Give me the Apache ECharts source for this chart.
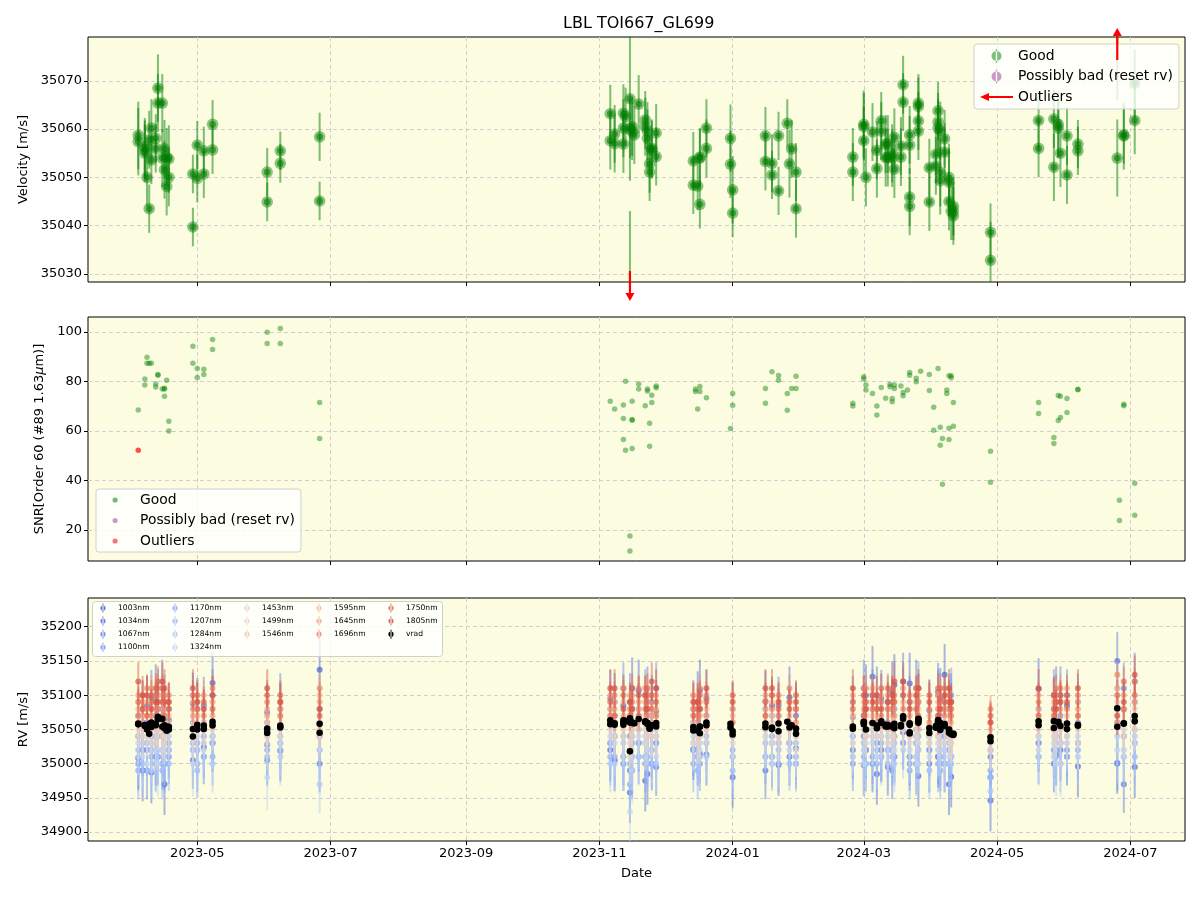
<!DOCTYPE html>
<html>
<head>
<meta charset="utf-8">
<title>LBL TOI667_GL699</title>
<script src="https://cdn.jsdelivr.net/npm/echarts@6/dist/echarts.min.js"></script>
<style>
  html, body { margin: 0; padding: 0; background: #fff; }
  #chart { width: 1200px; height: 900px; }
</style>
</head>
<body>
<div id="chart"></div>
<script>
// ---- 坐标轴范围与刻度 ----
const xMin = '2023-03-12';
const xMax = '2024-07-26';
const xTickLabels = ['2023-05', '2023-07', '2023-09', '2023-11', '2024-01', '2024-03', '2024-05', '2024-07'];
const velMin = 35028.3, velMax = 35079.1;
const velTicks = [35030, 35040, 35050, 35060, 35070];
const snrMin = 7.5, snrMax = 106.1;
const snrTicks = [20, 40, 60, 80, 100];
const rvMin = 34887, rvMax = 35242;
const rvTicks = [34900, 34950, 35000, 35050, 35100, 35150, 35200];

// ---- 速度 (Good) ----
const velDates = [
  '2023-04-04','2023-04-04','2023-04-07','2023-04-07','2023-04-07','2023-04-08','2023-04-09','2023-04-09','2023-04-10','2023-04-10',
  '2023-04-12','2023-04-12','2023-04-13','2023-04-13','2023-04-15','2023-04-15','2023-04-16','2023-04-16','2023-04-17','2023-04-17',
  '2023-04-18','2023-04-18','2023-04-29','2023-04-29','2023-05-01','2023-05-01','2023-05-04','2023-05-04','2023-05-08','2023-05-08',
  '2023-06-02','2023-06-02','2023-06-08','2023-06-08','2023-06-26','2023-06-26',
  '2023-11-06','2023-11-06','2023-11-08','2023-11-08','2023-11-12','2023-11-12','2023-11-12','2023-11-13','2023-11-15','2023-11-15',
  '2023-11-16','2023-11-16','2023-11-17','2023-11-19','2023-11-22','2023-11-22','2023-11-23','2023-11-23','2023-11-24','2023-11-24',
  '2023-11-25','2023-11-25','2023-11-27','2023-11-27',
  '2023-12-14','2023-12-14','2023-12-16','2023-12-17','2023-12-17','2023-12-17','2023-12-20','2023-12-20','2023-12-31','2023-12-31',
  '2024-01-01','2024-01-01','2024-01-16','2024-01-16','2024-01-19','2024-01-19','2024-01-22','2024-01-22','2024-01-26','2024-01-27',
  '2024-01-28','2024-01-30','2024-01-30',
  '2024-02-25','2024-02-25','2024-03-01','2024-03-01','2024-03-01','2024-03-02','2024-03-05','2024-03-07','2024-03-07','2024-03-09',
  '2024-03-09','2024-03-11','2024-03-11','2024-03-12','2024-03-12','2024-03-14','2024-03-14','2024-03-15','2024-03-15','2024-03-18',
  '2024-03-18','2024-03-19','2024-03-19','2024-03-22','2024-03-22','2024-03-22','2024-03-22','2024-03-26','2024-03-26','2024-03-26',
  '2024-03-26','2024-03-31','2024-03-31','2024-04-03','2024-04-03','2024-04-04','2024-04-04','2024-04-04','2024-04-05','2024-04-05',
  '2024-04-05','2024-04-07','2024-04-07','2024-04-09','2024-04-09','2024-04-09','2024-04-10','2024-04-11','2024-04-11','2024-04-11',
  '2024-04-28','2024-04-28',
  '2024-05-20','2024-05-20','2024-05-27','2024-05-27','2024-05-29','2024-05-29','2024-05-30','2024-06-02','2024-06-02','2024-06-07',
  '2024-06-07','2024-06-25','2024-06-28','2024-06-28','2024-07-03','2024-07-03'
];
const velValues = [
  35058.7,35057.4,35056.3,35055.8,35055.0,35050.0,35043.5,35057.8,35060.2,35053.6,
  35058.1,35056.0,35068.5,35065.4,35065.4,35054.0,35055.9,35051.6,35054.2,35048.1,
  35053.8,35050.0,35039.7,35050.7,35056.7,35049.8,35055.5,35050.7,35061.0,35055.7,
  35051.1,35044.9,35055.5,35052.9,35058.4,35045.1,
  35063.2,35057.6,35059.0,35057.0,35056.9,35060.2,35063.3,35062.6,35066.3,35060.0,
  35060.5,35059.6,35058.8,35065.2,35061.9,35060.5,35059.6,35058.1,35052.8,35051.1,
  35055.7,35056.0,35059.2,35054.3,
  35053.4,35048.4,35048.2,35054.0,35054.2,35044.4,35060.2,35056.0,35058.1,35052.7,
  35047.4,35042.6,35058.6,35053.3,35052.9,35050.5,35058.6,35047.2,35061.2,35052.8,
  35055.9,35051.1,35043.5,
  35054.2,35051.1,35060.5,35061.0,35057.6,35050.0,35059.4,35055.6,35051.8,35061.7,
  35059.6,35056.9,35054.1,35056.9,35054.1,35055.0,35054.0,35058.3,35051.7,35056.5,
  35054.2,35069.2,35065.6,35058.8,35056.7,35045.9,35044.0,35065.4,35064.7,35061.7,
  35059.6,35052.0,35044.9,35054.8,35052.4,35063.8,35061.5,35060.2,35059.7,35051.0,
  35049.3,35058.0,35055.2,35050.0,35049.0,35045.0,35043.0,35042.0,35044.0,35043.0,
  35038.6,35032.8,
  35061.8,35056.0,35062.1,35052.1,35061.0,35060.2,35055.0,35058.6,35050.5,35056.9,
  35055.5,35054.0,35058.6,35058.8,35061.8,35069.5
];
const velErr = [
  7,7,6,6,6,6,5,6,6,5, 5,5,7,6,6,6,6,6,6,6, 7,6,4,4,5,5,5,5,5,5, 5,4,4,4,5,4,
  6,6,6,6,6,6,6,6,17,6, 6,6,6,6,6,6,6,6,6,6, 6,6,6,6,
  6,6,5,6,6,5,6,6,7,7, 7,5,6,6,6,5,5,5,5,7, 6,6,6,
  6,6,7,7,7,6,6,6,6,6, 6,6,6,6,6,6,6,6,6,6, 6,6,6,6,6,6,6,6,6,6,
  6,6,6,6,6,6,6,6,6,7, 7,6,6,7,7,6,6,6,6,6, 6,8,
  6,6,6,7,7,6,7,6,6,5, 5,8,7,6,7,7
];

// ---- 速度离群点 (超出坐标范围) ----
const outDates = ['2023-11-15', '2024-06-25'];
const outValues = [35018, 35081];
const outErr = [25, 15];

// ---- SNR ----
const snrDates = [
  '2023-04-04','2023-04-07','2023-04-07','2023-04-08','2023-04-08','2023-04-09','2023-04-10','2023-04-12','2023-04-12','2023-04-13',
  '2023-04-13','2023-04-15','2023-04-16','2023-04-16','2023-04-16','2023-04-17','2023-04-18','2023-04-18','2023-04-29','2023-04-29',
  '2023-05-01','2023-05-01','2023-05-04','2023-05-04','2023-05-08','2023-05-08','2023-06-02','2023-06-02','2023-06-08','2023-06-08',
  '2023-06-26','2023-06-26',
  '2023-11-06','2023-11-08','2023-11-12','2023-11-12','2023-11-12','2023-11-13','2023-11-13','2023-11-15','2023-11-15','2023-11-16',
  '2023-11-16','2023-11-16','2023-11-16','2023-11-19','2023-11-19','2023-11-22','2023-11-23','2023-11-23','2023-11-24','2023-11-24',
  '2023-11-25','2023-11-25','2023-11-27','2023-11-27',
  '2023-12-15','2023-12-15','2023-12-16','2023-12-17','2023-12-17','2023-12-20','2023-12-31','2024-01-01','2024-01-01',
  '2024-01-16','2024-01-16','2024-01-19','2024-01-22','2024-01-22','2024-01-26','2024-01-26','2024-01-28','2024-01-30','2024-01-30',
  '2024-02-25','2024-02-25','2024-03-01','2024-03-01','2024-03-02','2024-03-02','2024-03-05','2024-03-07','2024-03-07','2024-03-09',
  '2024-03-11','2024-03-13','2024-03-13','2024-03-14','2024-03-14','2024-03-15','2024-03-15','2024-03-18','2024-03-19','2024-03-19',
  '2024-03-21','2024-03-22','2024-03-22','2024-03-25','2024-03-25','2024-03-27','2024-03-31','2024-03-31','2024-04-02','2024-04-02',
  '2024-04-04','2024-04-05','2024-04-05','2024-04-06','2024-04-06','2024-04-08','2024-04-08','2024-04-09','2024-04-09','2024-04-09',
  '2024-04-10','2024-04-10','2024-04-11','2024-04-11','2024-04-28','2024-04-28',
  '2024-05-20','2024-05-20','2024-05-27','2024-05-27','2024-05-29','2024-05-29','2024-05-30','2024-05-30','2024-06-02','2024-06-02',
  '2024-06-07','2024-06-07','2024-06-26','2024-06-26','2024-06-28','2024-06-28','2024-07-03','2024-07-03'
];
const snrValues = [
  68.5,81,78.6,89.8,87.4,87.4,87.4,79,77.8,82.9,
  82.6,77,77,77.3,74.1,80.5,64,60,94.3,87.4,
  85.3,81.7,85,82.9,97,93,99.9,95.4,101.5,95.4,
  71.6,57,
  72.1,68.9,56.6,70.5,65.1,80.1,52.3,17.6,11.5,72.1,
  64.4,64.7,53,79,77,70.2,77,76.2,63.2,53.9,
  71.6,74.5,77.5,78.2,
  77,76,68.9,78,76,73.5,61,75.2,70.4,
  77.2,71.2,84,82.5,80.5,75.2,68.4,77.2,77.2,82.2,
  71.2,70.1,82,81,78.6,76.6,75.2,70.1,66.5,77.6,
  73.3,78.9,77.9,73.2,71.9,78.6,77.2,78.2,75.6,74.3,
  76.6,83.7,82.6,81.3,79.9,84.2,82.9,76.4,69.6,60.3,
  85.3,61.5,54.3,57,38.5,76.6,75.2,82.4,61.1,56.6,
  82.4,81.6,62,71.6,51.8,39.3,
  71.6,67.1,57.4,55,74.4,64.3,74.1,65.5,73.2,67.5,
  76.7,76.9,32,23.9,70.8,70.2,38.9,26
];
const snrOutDates = ['2023-04-04'];
const snrOutValues = [52.3];

// ---- 各波段 RV (前 46 个日期 + 密集时段补充的 19 个日期) ----
const rvDates = [
  '2023-04-04','2023-04-08','2023-04-10','2023-04-13','2023-04-16','2023-04-18','2023-04-29','2023-05-04','2023-05-08','2023-06-02',
  '2023-06-08','2023-06-26','2023-11-06','2023-11-12','2023-11-15','2023-11-19','2023-11-23','2023-11-27','2023-12-14','2023-12-17',
  '2023-12-20','2024-01-01','2024-01-16','2024-01-22','2024-01-27','2024-01-30','2024-02-25','2024-03-01','2024-03-05','2024-03-09',
  '2024-03-14','2024-03-19','2024-03-22','2024-03-26','2024-03-31','2024-04-04','2024-04-07','2024-04-10','2024-04-28','2024-05-20',
  '2024-05-28','2024-06-02','2024-06-07','2024-06-25','2024-06-28','2024-07-03',
  '2023-04-06','2023-04-12','2023-04-15','2023-05-01','2023-11-08','2023-11-16','2023-11-22','2023-11-25','2023-12-16','2024-01-19',
  '2024-03-02','2024-03-07','2024-03-12','2024-03-15','2024-03-25','2024-04-05','2024-04-09','2024-05-27','2024-05-30'
];
const bandNames = ['1003nm','1034nm','1067nm','1100nm','1170nm','1207nm','1284nm','1324nm',
  '1453nm','1499nm','1546nm','1595nm','1645nm','1696nm','1750nm','1805nm'];
const bandColors = ['#4a63d3','#5673e0','#6485ec','#7093f3','#84a7fc','#94b6ff','#adc9fd','#c0d4f5',
  '#dcd6d3','#ebd2c5','#f2c7b2','#f6b79b','#f5a081','#ee8669','#e26952','#d65244'];
const bandErr = [45, 42, 38, 40, 42, 40, 42, 48, 40, 30, 26, 22, 20, 20, 22, 28];

const rv1003 = [35008,35085,34987,35080,34970,35063,35088,35024,35118,35028, 35019,35137,35020,35085,34958,35107,34985,35077,35021,35107,
  35013,34980,35091,34998,35097,35022,35068,34998,35127,35020, 35105,35046,35117,34982,35078,35010,35130,34981,34946,35109,
  35013,35085,34996,35001,35079,34995,
  34990,35100,35040,35080,35005,35110,34975,35070,35090,35010, 35100,34985,35060,35115,35000,35095,34970,35080,35020];
const rv1034 = [35040,34990,35095,35010,35070,35020,35005,35085,35030,35075, 35090,35000,35095,35010,35090,35030,35100,34995,35080,35015,
  35095,35040,34990,35085,35010,35070,35020,35110,35000,35095, 34990,35120,35010,35090,35000,35105,35000,35090,35010,35030,
  35100,35010,35090,35150,34970,35120,
  35080,35010,35110,35000,35090,34990,35060,35020,35010,35085, 35020,35100,34995,35040,35110,35010,35080,35000,35100];
const rv1067 = [35070,35020,35040,35100,35000,35080,35030,35060,35100,35005, 35080,35040,35030,35110,34990,35080,35040,35110,35020,35080,
  35060,35010,35080,35030,35060,35000,35090,35040,35100,35010, 35080,35030,35090,35050,35020,35100,35040,35010,34980,35080,
  35040,35100,35030,35060,35110,35030,
  35020,35070,35000,35050,35040,35080,35100,35000,35060,35030, 35080,35030,35090,35010,35050,35070,35020,35100,35030];
const rv1100 = [35000,35060,35020,35050,35090,35010,35060,35010,35040,35060, 35030,35080,35080,35000,35040,35010,35070,35030,35060,35000,
  35070,35080,35010,35070,35030,35080,35000,35070,35010,35090, 35020,35100,35000,35110,35040,35010,35080,35100,35020,35010,
  35090,35020,35060,35000,35040,35090,
  35060,35000,35080,35020,35070,35030,35010,35090,35020,35070, 35000,35060,35020,35080,35030,35000,35090,35020,35070];
const rv1170 = [34990,35030,35010,35040,35000,35030,35020,35040,35010,35020, 35040,35020,35010,35040,34970,35050,35010,35030,35000,35040,
  35030,35020,35050,35000,35030,35010,35040,35010,35050,35030, 35010,35060,34990,35040,35020,35000,35040,35010,34990,35030,
  35010,35040,35020,35080,35010,35050,
  35020,35040,34990,35030,35010,35040,35000,35050,34990,35040, 35020,35000,35050,35010,35040,34990,35030,35050,35000];
const rv1207 = [35020,34990,35040,35010,35030,35000,35040,35010,35030,35010, 35020,35040,35030,35000,35000,35030,35000,35040,35020,35010,
  35040,34990,35030,35020,35000,35030,35010,35030,35000,35040, 35020,35030,35010,35020,34990,35040,35020,35000,34980,35040,
  35020,35010,35030,35110,35040,35010,
  35000,35030,35020,34990,35040,35010,35030,35000,35020,35000, 35040,35020,35000,35030,35010,35040,35000,35020,35030];
const rv1284 = [35010,35030,34990,35020,35010,35040,35020,35030,35000,35040, 35010,34970,35000,35030,35020,35010,35040,35000,35030,35030,
  35010,35040,35010,35040,35030,35000,35040,35020,35040,35010, 35040,35020,35040,35000,35030,35020,35000,35030,34960,35010,
  35040,35030,35010,35040,35020,35040,
  35030,35000,35040,35020,35000,35030,35010,35040,35010,35030, 35000,35040,35020,35000,35030,35010,35040,35010,35030];
const rv1324 = [35030,35000,35020,35000,35040,35020,35000,35020,35040,34980, 35030,35020,35040,35010,34930,35040,35020,35010,35040,35020,
  35030,35010,35040,35010,35020,35040,35030,35000,35030,35040, 35030,35050,35020,35030,35010,35030,35020,35010,35040,35020,
  35000,35040,35040,35020,35010,35030,
  35010,35040,35020,35000,35030,34990,35040,35020,35030,35010, 35030,35010,35040,35020,35000,35030,35010,35030,35000];
const rv1453 = [35040,35050,35030,35060,35040,35050,35030,35050,35060,35030, 35040,35060,35050,35040,35010,35050,35040,35050,35030,35040,
  35050,35030,35040,35030,35050,35020,35030,35050,35040,35050, 35040,35060,35030,35050,35040,35050,35030,35040,35030,35040,
  35050,35040,35030,35070,35050,35060,
  35050,35030,35050,35040,35060,35040,35030,35050,35040,35030, 35050,35040,35030,35060,35040,35030,35050,35040,35030];
const rv1499 = [35050,35040,35060,35050,35030,35060,35040,35060,35050,35040, 35050,35040,35060,35050,35030,35060,35050,35040,35050,35040,
  35060,35040,35050,35040,35060,35040,35050,35060,35050,35040, 35060,35050,35040,35060,35030,35040,35060,35030,35020,35050,
  35040,35060,35050,35080,35040,35050,
  35040,35060,35040,35050,35040,35060,35050,35040,35030,35060, 35040,35050,35060,35040,35050,35060,35040,35050,35060];
const rv1546 = [35060,35070,35050,35060,35070,35050,35060,35050,35070,35060, 35070,35050,35070,35060,35020,35070,35060,35070,35060,35070,
  35050,35060,35070,35060,35050,35060,35070,35060,35070,35080, 35050,35070,35060,35080,35050,35070,35060,35040,35040,35070,
  35060,35050,35070,35090,35060,35080,
  35070,35050,35060,35070,35060,35050,35070,35060,35050,35070, 35060,35070,35050,35070,35060,35050,35070,35060,35050];
const rv1595 = [35080,35090,35070,35100,35080,35070,35090,35080,35070,35080, 35090,35100,35080,35090,35060,35080,35100,35080,35090,35070,
  35080,35070,35080,35090,35070,35080,35070,35090,35080,35100, 35070,35090,35080,35100,35070,35090,35080,35060,35050,35080,
  35100,35070,35090,35110,35080,35070,
  35090,35080,35100,35070,35090,35080,35100,35070,35080,35090, 35070,35100,35080,35090,35100,35080,35070,35090,35080];
const rv1645 = [35100,35080,35110,35080,35100,35090,35070,35100,35090,35070, 35080,35090,35100,35070,35100,35090,35070,35100,35080,35090,
  35070,35080,35100,35070,35090,35060,35100,35080,35110,35090, 35080,35110,35070,35090,35080,35100,35070,35090,35060,35100,
  35080,35110,35080,35060,35100,35090,
  35080,35100,35070,35090,35080,35100,35090,35080,35070,35100, 35090,35080,35100,35070,35090,35100,35080,35100,35090];
const rv1696 = [35070,35110,35090,35110,35070,35100,35080,35070,35110,35090, 35070,35110,35070,35110,35080,35110,35090,35070,35100,35110,
  35100,35060,35090,35100,35110,35080,35090,35110,35080,35070, 35110,35080,35100,35110,35060,35080,35110,35070,35080,35090,
  35110,35080,35100,35130,35080,35120,
  35100,35070,35110,35080,35100,35090,35110,35080,35090,35080, 35110,35090,35080,35100,35110,35090,35100,35080,35110];
const rv1750 = [35090,35070,35100,35120,35090,35080,35100,35090,35080,35100, 35100,35070,35090,35100,35070,35070,35110,35090,35070,35100,
  35090,35100,35070,35080,35090,35100,35080,35070,35100,35110, 35090,35100,35090,35070,35100,35110,35090,35080,35070,35070,
  35090,35100,35070,35100,35120,35100,
  35080,35110,35090,35100,35070,35110,35080,35100,35080,35100, 35090,35080,35110,35090,35080,35110,35090,35070,35100];
const rv1805 = [35120,35100,35080,35090,35110,35090,35110,35080,35100,35110, 35090,35080,35110,35080,35090,35100,35080,35110,35090,35080,
  35110,35090,35110,35090,35080,35090,35110,35100,35090,35080, 35100,35120,35080,35110,35090,35070,35100,35090,35060,35110,
  35080,35090,35110,35070,35090,35130,
  35100,35090,35120,35090,35110,35080,35100,35120,35090,35110, 35080,35100,35090,35120,35100,35080,35110,35100,35090];
const bandValues = [rv1003, rv1034, rv1067, rv1100, rv1170, rv1207, rv1284, rv1324,
  rv1453, rv1499, rv1546, rv1595, rv1645, rv1696, rv1750, rv1805];
const vradErr = 3;

// 底部图例的列分组 (matplotlib ncol=5)
const rvLegendColumns = [
  ['1003nm', '1034nm', '1067nm', '1100nm'],
  ['1170nm', '1207nm', '1284nm', '1324nm'],
  ['1453nm', '1499nm', '1546nm'],
  ['1595nm', '1645nm', '1696nm'],
  ['1750nm', '1805nm', 'vrad']
];

// ---- 样式常量 ----
const FONT = 'DejaVu Sans';
const GREEN = 'rgba(0,128,0,0.5)';
const PURPLE = 'rgba(128,0,128,0.5)';
const GRID_LEFT = 88, GRID_WIDTH = 1097;

const chart = echarts.init(document.getElementById('chart'), null, { renderer: 'canvas' });

// 日期字符串 -> 时间戳
function ts(s) {
  return echarts.time.parse(s).getTime();
}

const xTicks = xTickLabels.map(s => ts(s + '-01'));

/**
 * x 轴 (三个面板共享范围)
 */
function makeXAxis(idx, withLabels) {
  return {
    type: 'value', gridIndex: idx, min: ts(xMin), max: ts(xMax),
    axisLine: { show: false },
    axisTick: { show: true, customValues: xTicks, length: 4, lineStyle: { color: '#000' } },
    axisLabel: {
      show: withLabels, customValues: xTicks, color: '#000', fontFamily: FONT, fontSize: 13, margin: 6,
      formatter: v => echarts.time.format(v, '{yyyy}-{MM}', false)
    },
    splitLine: { show: true, lineStyle: { color: '#cfcfcf', type: [4, 3], width: 1 } },
    name: withLabels ? 'Date' : '', nameLocation: 'middle', nameGap: 26,
    nameTextStyle: { color: '#000', fontFamily: FONT, fontSize: 13 }
  };
}

/**
 * y 轴
 */
function makeYAxis(idx, min, max, ticks, name, gap, rich) {
  return {
    type: 'value', gridIndex: idx, min: min, max: max,
    axisLine: { show: false },
    axisTick: { show: true, customValues: ticks, length: 4, lineStyle: { color: '#000' } },
    axisLabel: { customValues: ticks, color: '#000', fontFamily: FONT, fontSize: 13, margin: 6, formatter: v => String(v) },
    splitLine: { show: true, lineStyle: { color: '#cfcfcf', type: [4, 3], width: 1 } },
    name: name, nameLocation: 'middle', nameGap: gap,
    nameTextStyle: { color: '#000', fontFamily: FONT, fontSize: 13, rich: rich || {} }
  };
}

// 速度点 + 误差棒
function renderVelocity(params, api) {
  const x = api.value(0), v = api.value(1), e = api.value(2);
  const c = api.coord([x, v]);
  const lo = api.coord([x, v - e]);
  const hi = api.coord([x, v + e]);
  return {
    type: 'group',
    children: [
      { type: 'line', shape: { x1: c[0], y1: lo[1], x2: c[0], y2: hi[1] }, style: { stroke: GREEN, lineWidth: 2 } },
      { type: 'circle', shape: { cx: c[0], cy: c[1], r: 5.8 }, style: { fill: 'rgba(0,128,0,0.45)' } },
      { type: 'circle', shape: { cx: c[0], cy: c[1], r: 3.4 }, style: { fill: 'rgba(0,120,0,0.55)' } }
    ]
  };
}

// 离群点误差棒 (只画线)
function renderOutlierBar(params, api) {
  const x = api.value(0), v = api.value(1), e = api.value(2);
  const lo = api.coord([x, v - e]);
  const hi = api.coord([x, v + e]);
  return { type: 'line', shape: { x1: lo[0], y1: lo[1], x2: hi[0], y2: hi[1] }, style: { stroke: GREEN, lineWidth: 2 } };
}

// 离群点箭头 (指向坐标范围外)
function renderOutlierArrow(params, api) {
  const x = api.value(0), v = api.value(1);
  const up = v > velMax;
  const p = api.coord([x, up ? velMax : velMin]);
  const tail = p[1] + (up ? 23 : -11);
  const tip = p[1] + (up ? -9 : 19);
  const head = up ? 8 : -8;
  return {
    type: 'group',
    children: [
      { type: 'line', shape: { x1: p[0], y1: tail, x2: p[0], y2: tip + head }, style: { stroke: '#ff0000', lineWidth: 2.2 } },
      { type: 'polygon', shape: { points: [[p[0], tip], [p[0] - 4.5, tip + head], [p[0] + 4.5, tip + head]] }, style: { fill: '#ff0000' } }
    ]
  };
}

// 波段 RV 点 + 误差棒
function makeBandRenderer(err, dotR, lineW, dotOpacity, lineOpacity) {
  return function (params, api) {
    const x = api.value(0), v = api.value(1);
    const color = api.visual('color');
    const c = api.coord([x, v]);
    const lo = api.coord([x, v - err]);
    const hi = api.coord([x, v + err]);
    return {
      type: 'group',
      children: [
        { type: 'line', shape: { x1: c[0], y1: lo[1], x2: c[0], y2: hi[1] }, style: { stroke: color, lineWidth: lineW, opacity: lineOpacity } },
        { type: 'circle', shape: { cx: c[0], cy: c[1], r: dotR }, style: { fill: color, opacity: dotOpacity } }
      ]
    };
  };
}

const velData = velDates.map((d, i) => [ts(d), velValues[i], velErr[i]]);
const outData = outDates.map((d, i) => [ts(d), outValues[i], outErr[i]]);
const snrData = snrDates.map((d, i) => [ts(d), snrValues[i]]);
const snrOutData = snrOutDates.map((d, i) => [ts(d), snrOutValues[i]]);
const vradData = velData.concat(outData).map(r => [r[0], r[1]]);

const series = [];

// 面板 1: 速度
series.push({
  name: 'Good', type: 'custom', xAxisIndex: 0, yAxisIndex: 0, clip: true, silent: true,
  itemStyle: { color: GREEN }, renderItem: renderVelocity, encode: { x: 0, y: 1 }, data: velData
});
series.push({
  name: 'Outliers', type: 'custom', xAxisIndex: 0, yAxisIndex: 0, clip: false, silent: true, z: 5,
  itemStyle: { color: '#ff0000' }, renderItem: renderOutlierArrow, encode: { x: 0, y: 1 }, data: outData
});
series.push({
  name: '', type: 'custom', xAxisIndex: 0, yAxisIndex: 0, clip: true, silent: true,
  itemStyle: { color: GREEN }, renderItem: renderOutlierBar, encode: { x: 0, y: 1 }, data: outData
});
series.push({
  name: 'Possibly bad (reset rv)', type: 'scatter', xAxisIndex: 0, yAxisIndex: 0,
  itemStyle: { color: PURPLE }, data: []
});

// 面板 2: SNR
series.push({
  name: 'Good', type: 'scatter', xAxisIndex: 1, yAxisIndex: 1, silent: true,
  symbolSize: 5.5, itemStyle: { color: 'rgba(0,128,0,0.55)' }, data: snrData
});
series.push({
  name: 'Possibly bad (reset rv)', type: 'scatter', xAxisIndex: 1, yAxisIndex: 1,
  itemStyle: { color: PURPLE }, data: []
});
series.push({
  name: 'Outliers', type: 'scatter', xAxisIndex: 1, yAxisIndex: 1, silent: true,
  symbolSize: 5.5, itemStyle: { color: 'rgba(255,0,0,0.85)' }, data: snrOutData
});

// 面板 3: 各波段 RV
bandNames.forEach((name, b) => {
  series.push({
    name: name, type: 'custom', xAxisIndex: 2, yAxisIndex: 2, clip: true, silent: true,
    itemStyle: { color: bandColors[b] },
    renderItem: makeBandRenderer(bandErr[b], 3, 2, 0.7, 0.45),
    encode: { x: 0, y: 1 },
    data: rvDates.map((d, i) => [ts(d), bandValues[b][i]])
  });
});
series.push({
  name: 'vrad', type: 'custom', xAxisIndex: 2, yAxisIndex: 2, clip: true, silent: true, z: 4,
  itemStyle: { color: '#000' },
  renderItem: makeBandRenderer(vradErr, 3.3, 1.5, 1, 1),
  encode: { x: 0, y: 1 }, data: vradData
});

// 图例图标 (用退化线段撑满图标框, 保证图标在框内的位置)
const goodIcon = 'path://M0,0L0,0.01M33,14L33,13.99M11.5,7a5,5 0 1,0 10,0a5,5 0 1,0 -10,0zM15.8,0h1.4v14h-1.4z';
const arrowIcon = 'path://M0,0L0,0.01M33,14L33,13.99M0,7L9,3L9,6L33,6L33,8L9,8L9,11Z';
const dotIcon = 'path://M0,0L0,0.01M33,14L33,13.99M10.5,7a2.6,2.6 0 1,0 5.2,0a2.6,2.6 0 1,0 -5.2,0z';
const smallBarIcon = 'path://M0,0L0,0.01M20,9L20,8.99M7.4,4.5a2.6,2.6 0 1,0 5.2,0a2.6,2.6 0 1,0 -5.2,0zM9.5,0h1v9h-1z';
const legendBox = {
  backgroundColor: 'rgba(255,255,255,0.8)', borderColor: '#d0d0d0', borderWidth: 1, borderRadius: 3
};
const LEGEND_FONT = 13.9;

// 底部图例: 每列一个 legend 组件
const colLefts = [93, 165, 237, 309, 381];
const rvLegends = rvLegendColumns.map((names, c) => ({
  left: colLefts[c], top: 603.5, orient: 'vertical', itemWidth: 20, itemHeight: 9, itemGap: 4.1,
  padding: 0, selectedMode: false, icon: smallBarIcon,
  textStyle: { fontFamily: FONT, fontSize: 7.6, color: '#000' },
  data: names.map(n => {
    const b = bandNames.indexOf(n);
    return { name: n, itemStyle: { color: b >= 0 ? bandColors[b] : '#000', opacity: b >= 0 ? 0.85 : 1 } };
  })
}));

const option = {
  animation: false,
  backgroundColor: '#ffffff',
  title: {
    text: 'LBL TOI667_GL699', left: 558, top: 11,
    textStyle: { fontFamily: FONT, fontSize: 16, fontWeight: 'normal', color: '#000' }
  },
  graphic: [{
    // 底部图例背景框
    type: 'rect', left: 92, top: 601, z: 3,
    shape: { width: 350, height: 55, r: 3 },
    style: { fill: 'rgba(255,255,255,0.8)', stroke: '#d0d0d0', lineWidth: 1 }
  }],
  grid: [
    { left: GRID_LEFT, top: 37, width: GRID_WIDTH, height: 245 },
    { left: GRID_LEFT, top: 317, width: GRID_WIDTH, height: 244 },
    { left: GRID_LEFT, top: 598, width: GRID_WIDTH, height: 243 }
  ].map(g => Object.assign(g, { show: true, backgroundColor: '#fcfce1', borderColor: '#000', borderWidth: 1 })),
  xAxis: [makeXAxis(0, false), makeXAxis(1, false), makeXAxis(2, true)],
  yAxis: [
    makeYAxis(0, velMin, velMax, velTicks, 'Velocity [m/s]', 58),
    makeYAxis(1, snrMin, snrMax, snrTicks, 'SNR[Order 60 (#89 1.63{i|μ}m)]', 42, { i: { fontStyle: 'italic', fontFamily: FONT, fontSize: 13 } }),
    makeYAxis(2, rvMin, rvMax, rvTicks, 'RV [m/s]', 58)
  ],
  legend: [
    Object.assign({
      left: 974, top: 44, width: 204, orient: 'vertical', itemWidth: 33, itemHeight: 14, itemGap: 6.5, padding: [5, 6, 5, 6],
      selectedMode: false,
      textStyle: { fontFamily: FONT, fontSize: LEGEND_FONT, color: '#000' },
      data: [
        { name: 'Good', icon: goodIcon, itemStyle: { color: GREEN } },
        { name: 'Possibly bad (reset rv)', icon: goodIcon, itemStyle: { color: PURPLE } },
        { name: 'Outliers', icon: arrowIcon, itemStyle: { color: '#ff0000' } }
      ]
    }, legendBox),
    Object.assign({
      left: 96, top: 489, orient: 'vertical', itemWidth: 33, itemHeight: 14, itemGap: 6.5, padding: [4, 6, 4, 6],
      selectedMode: false,
      textStyle: { fontFamily: FONT, fontSize: LEGEND_FONT, color: '#000' },
      data: [
        { name: 'Good', icon: dotIcon, itemStyle: { color: 'rgba(0,128,0,0.55)' } },
        { name: 'Possibly bad (reset rv)', icon: dotIcon, itemStyle: { color: PURPLE } },
        { name: 'Outliers', icon: dotIcon, itemStyle: { color: 'rgba(255,0,0,0.55)' } }
      ]
    }, legendBox)
  ].concat(rvLegends),
  series: series
};

chart.setOption(option);
</script>
</body>
</html>
